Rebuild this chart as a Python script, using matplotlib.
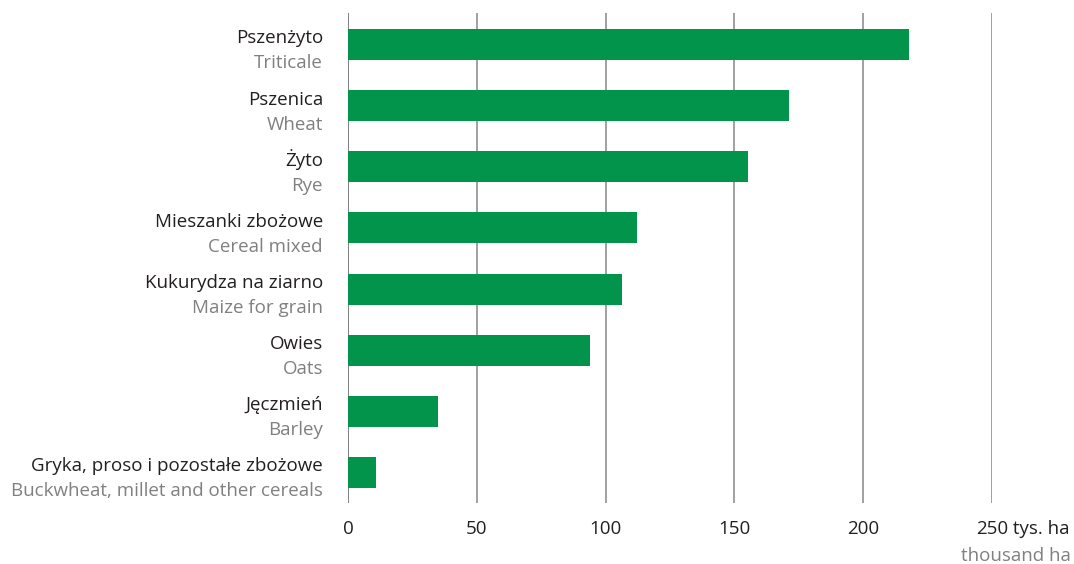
import matplotlib
matplotlib.use("Agg")
import matplotlib.pyplot as plt

# Data (top to bottom)
labels_pl = ["Pszenżyto", "Pszenica", "Żyto", "Mieszanki zbożowe",
             "Kukurydza na ziarno", "Owies", "Jęczmień",
             "Gryka, proso i pozostałe zbożowe"]
labels_en = ["Triticale", "Wheat", "Rye", "Cereal mixed",
             "Maize for grain", "Oats", "Barley",
             "Buckwheat, millet and other cereals"]
values = [217.8, 171.2, 155.3, 112.1, 106.2, 93.9, 35.0, 11.0]
xticks = [0, 50, 100, 150, 200, 250]
xtick_labels = ["0", "50", "100", "150", "200", "250"]
unit_pl = " tys. ha"
unit_en = "thousand ha"

FONT = "Open Sans"
FS = 13.5
BLACK = "#231f20"
GRAY = "#808080"
GREEN = "#03944b"

W, H = 1074, 564
fig = plt.figure(figsize=(W / 100, H / 100), dpi=100)
ax = fig.add_axes([348 / W, (H - 503) / H, (992 - 348) / W, (503 - 13) / H])

ypos = list(range(len(values)))
ax.barh(ypos, values, height=0.507, color=GREEN, zorder=3)
ax.set_xlim(0, 250)
ax.set_ylim(len(values) - 0.5, -0.515)

for x in xticks:
    ax.axvline(x, color="#7f7f7f" if x == 0 else "#a0a0a0", lw=1.4, zorder=2)

for s in ax.spines.values():
    s.set_visible(False)
ax.set_yticks([])
ax.set_xticks(xticks)
ax.set_xticklabels(xtick_labels, fontfamily=FONT, fontsize=FS, color=BLACK)
ax.tick_params(axis="x", length=0, pad=12)

for i, (pl, en) in enumerate(zip(labels_pl, labels_en)):
    ax.annotate(pl, xy=(0, i), xycoords=("axes fraction", "data"),
                xytext=(-25, 1), textcoords="offset pixels",
                ha="right", va="baseline", fontfamily=FONT, fontsize=FS,
                color=BLACK)
    ax.annotate(en, xy=(0, i), xycoords=("axes fraction", "data"),
                xytext=(-25, -24), textcoords="offset pixels",
                ha="right", va="baseline", fontfamily=FONT, fontsize=FS,
                color=GRAY)

# unit labels next to the last tick label
fig.canvas.draw()
tl = ax.get_xticklabels()[-1]
bb = tl.get_window_extent()
fig.text(bb.x1 / W, bb.y0 / H, unit_pl, ha="left", va="bottom",
         fontfamily=FONT, fontsize=FS, color=BLACK)
fig.text(1071 / W, (H - 556) / H, unit_en, ha="right", va="center",
         fontfamily=FONT, fontsize=FS, color=GRAY)

fig.savefig("out.png", dpi=100, facecolor="white")
